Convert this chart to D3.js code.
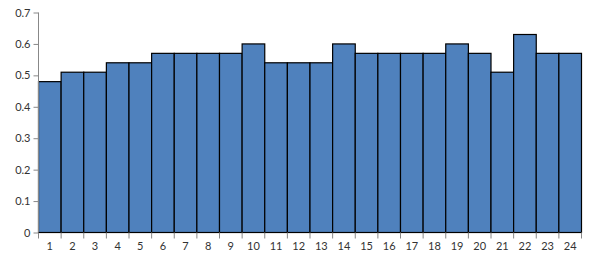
<!DOCTYPE html>
<html><head><meta charset="utf-8">
<script src="https://cdn.jsdelivr.net/npm/d3@7"></script>
<style>
body{margin:0;background:#fff}
text{font-family:Lato, "DejaVu Sans", sans-serif;}
</style></head>
<body><svg id="c" width="593" height="260"></svg>
<script>
const categories = ["1","2","3","4","5","6","7","8","9","10","11","12","13","14","15","16","17","18","19","20","21","22","23","24"];
const values = [0.48,0.51,0.51,0.54,0.54,0.57,0.57,0.57,0.57,0.60,0.54,0.54,0.54,0.60,0.57,0.57,0.57,0.57,0.60,0.57,0.51,0.63,0.57,0.57];
const yTicks = [0,0.1,0.2,0.3,0.4,0.5,0.6,0.7];

(function(){
const svg = d3.select("#c");
const mL = 38.5, mR = 581.5, mT = 12.5, mB = 232.5;
const x = d3.scaleBand().domain(categories).range([mL, mR]).padding(0);
const y = d3.scaleLinear().domain([0,0.7]).range([mB, mT]);

svg.append("g").selectAll("rect").data(values).join("rect")
  .attr("x", (d,i)=>x(categories[i]))
  .attr("y", d=>y(d))
  .attr("width", x.bandwidth())
  .attr("height", d=>y(0)-y(d))
  .attr("fill", "#4f81bd")
  .attr("stroke", "#000")
  .attr("stroke-width", 1.2);

// y axis
const ya = svg.append("g").attr("transform", `translate(${mL},0)`)
  .call(d3.axisLeft(y).tickValues(yTicks).tickSize(5).tickPadding(3).tickFormat(d=>d===0?"0":d3.format(".1f")(d)));
ya.select(".domain").attr("stroke","#888").attr("d", `M0,${mT}V${mB}`);
ya.selectAll(".tick line").attr("stroke","#888");
ya.selectAll("text").attr("fill","#333").style("font-size","11px").style("font-family","Lato, sans-serif");

// x axis: ticks at band edges
const xa = svg.append("g").attr("transform", `translate(0,${mB})`);
xa.append("line").attr("x1", mL).attr("x2", mR).attr("y1",0).attr("y2",0).attr("stroke","#000").attr("stroke-width",1.2);
const edges = categories.map(c=>x(c)).concat([mR]);
xa.selectAll("line.t").data(edges).join("line").attr("class","t")
  .attr("x1",d=>d).attr("x2",d=>d).attr("y1",0).attr("y2",6).attr("stroke","#888");
xa.selectAll("text").data(categories).join("text")
  .attr("x", d=>x(d)+x.bandwidth()/2).attr("y", 17)
  .attr("text-anchor","middle").attr("fill","#333").style("font-size","11px")
  .text(d=>d);
})();
</script></body></html>
